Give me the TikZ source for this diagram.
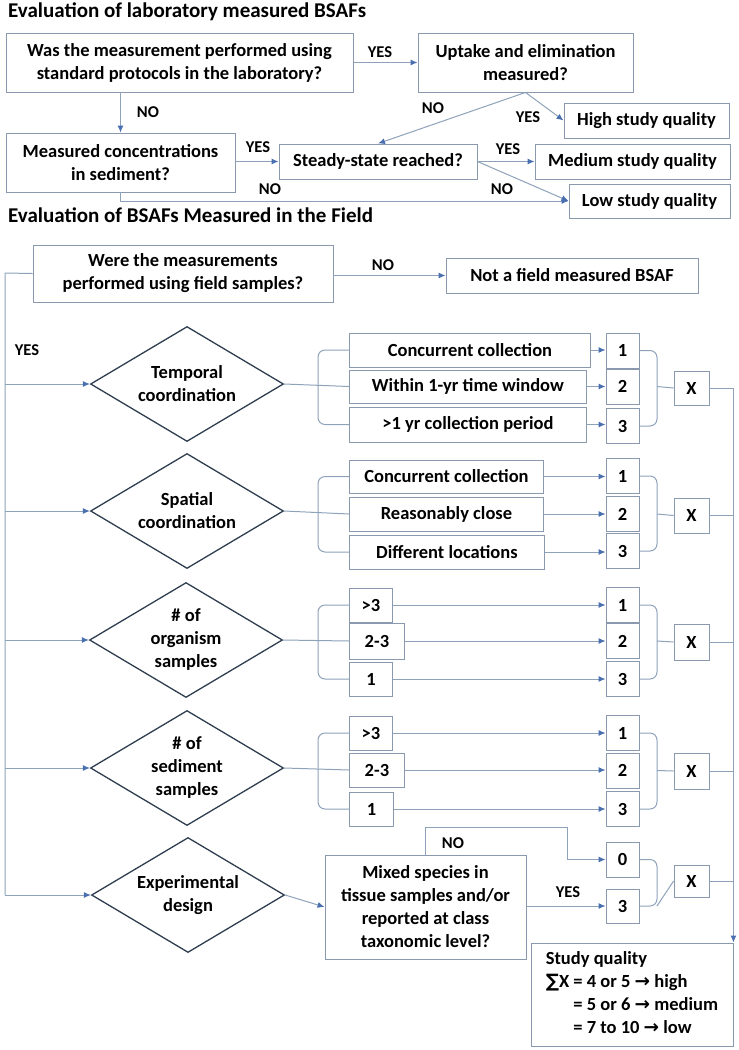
\documentclass[tikz,border=0pt]{standalone}
\usepackage{fontspec}
\setmainfont{Carlito}
\newfontfamily\symfont{DejaVu Sans}
\usetikzlibrary{arrows.meta, positioning, shapes.geometric}
\definecolor{boxgray}{HTML}{8A99AD}
\definecolor{linegray}{HTML}{8EA2BA}
\definecolor{headblue}{HTML}{4A6FB0}
\definecolor{navy}{HTML}{2E3D50}
\newcommand{\ra}{{\symfont\bfseries →}}
\tikzset{
  boxfont/.style={font=\fontsize{18.5}{23}\selectfont\bfseries}, % text inside boxes
  box/.style={draw=boxgray, line width=0.9pt, align=center, inner sep=2pt, boxfont},
  decision/.style={diamond, draw=navy, line width=1.3pt, aspect=1.68, minimum width=193pt, minimum height=115pt, inner sep=0pt, align=center, boxfont},
  score/.style={box, minimum width=33pt, minimum height=35pt},
  answer/.style={font=\fontsize{16.5}{18}\selectfont\bfseries, inner sep=0pt}, % YES / NO
  heading/.style={font=\fontsize{21}{24}\selectfont\bfseries, anchor=west, inner sep=0pt},
  link/.style={draw=linegray, line width=1pt},
  arr/.style={link, -{Latex[length=7pt,width=6pt,color=headblue]}},
}

\begin{document}
\begin{tikzpicture}[x=1pt, y=-1pt]
  \useasboundingbox (0,0) rectangle (739,1050);

  % laboratory part
  \node[heading] (title1) at (8,12) {Evaluation of laboratory measured BSAFs};
  \node[box, minimum width=347pt, minimum height=59pt] (std) at (179.5,62.5) {Was the measurement performed using\\standard protocols in the laboratory?};
  \node[box, minimum width=215pt, minimum height=59pt] (uptake) at (525.5,62.5) {Uptake and elimination\\measured?};
  \node[box, minimum width=165pt, minimum height=35pt] (high) at (646.5,120.5) {High study quality};
  \node[box, minimum width=229pt, minimum height=59pt] (sedconc) at (120.5,162.5) {Measured concentrations\\in sediment?};
  \node[box, minimum width=198pt, minimum height=35pt] (steady) at (378,161.5) {Steady-state reached?};
  \node[box, minimum width=195pt, minimum height=35pt] (medium) at (632.5,161.5) {Medium study quality};
  \node[box, minimum width=161pt, minimum height=34pt] (low) at (649.5,201) {Low study quality};

  \draw[arr] (std.east |- uptake.west) -- (uptake.west);
  \draw[arr] (std.south -| sedconc.north) -- (sedconc.north);
  \draw[arr] (uptake.south) -- (high.west);
  \draw[arr] (uptake.south) -- (steady.north);
  \draw[arr] (sedconc.east |- steady.west) -- (steady.west);
  \draw[arr] (steady.east) -- (medium.west);
  \draw[arr] (steady.east) -- (low.west);
  \draw[arr] (sedconc.south) |- (low.west);

  \node[answer] (y1) at (380,52) {YES};
  \node[answer] (n1) at (148,112) {NO};
  \node[answer] (y2) at (528,117) {YES};
  \node[answer] (n2) at (433,108) {NO};
  \node[answer] (y3) at (258,147) {YES};
  \node[answer] (n3) at (270,189) {NO};
  \node[answer] (y4) at (508,149) {YES};
  \node[answer] (n4) at (502,189) {NO};

  % field part
  \node[heading] (title2) at (8,215) {Evaluation of BSAFs Measured in the Field};
  \node[box, minimum width=300pt, minimum height=57pt] (field) at (183,273.5) {Were the measurements\\performed using field samples?};
  \node[box, minimum width=252pt, minimum height=35pt] (notfield) at (572,275.5) {Not a field measured BSAF};
  \draw[arr] (field.east |- notfield.west) -- (notfield.west);
  \node[answer] (n5) at (383,265) {NO};
  \node[answer] (y5) at (27,350) {YES};

  \node[decision] (temporal) at (187,384) {Temporal\\coordination};
  \node[decision] (spatial) at (187,511) {Spatial\\coordination};
  \node[decision] (organism) at (186,640) {\# of\\organism\\samples};
  \node[decision] (sediment) at (187,768) {\# of\\sediment\\samples};
  \node[decision] (design) at (188,895) {Experimental\\design};

  \coordinate (rail) at (5,273);
  \draw[link] (field.west) -- (rail) -- (rail |- design.west);
  \foreach \d in {temporal, spatial, organism, sediment, design}
    \draw[arr] (rail |- \d.west) -- (\d.west);

  % temporal coordination
  \node[box, minimum width=241pt, minimum height=34pt, anchor=west] (t1) at (349,350) {Concurrent collection};
  \node[box, minimum width=237pt, minimum height=33pt, anchor=west] (t2) at (349,386.5) {Within 1-yr time window};
  \node[box, minimum width=237pt, minimum height=35pt, anchor=west] (t3) at (349,424.5) {>1 yr collection period};
  \node[score] (s11) at (622.5,350.5) {1};
  \node[score] (s12) at (622.5,386.5) {2};
  \node[score] (s13) at (622.5,426) {3};
  \node[score, minimum width=35pt, minimum height=34pt] (x1) at (691.5,388) {X};

  % spatial coordination
  \node[box, minimum width=194pt, minimum height=33pt, anchor=west] (p1) at (349,476.5) {Concurrent collection};
  \node[box, minimum width=194pt, minimum height=34pt, anchor=west] (p2) at (349,514) {Reasonably close};
  \node[box, minimum width=195pt, minimum height=34pt, anchor=west] (p3) at (349,552) {Different locations};
  \node[score] (s21) at (622.5,476) {1};
  \node[score] (s22) at (622.5,514) {2};
  \node[score] (s23) at (622.5,551) {3};
  \node[score, minimum width=35pt] (x2) at (691.5,515.5) {X};

  % organism samples
  \node[box, minimum width=43pt, minimum height=34pt, anchor=west] (o1) at (349,605) {>3};
  \node[box, minimum width=55pt, minimum height=36pt, anchor=west] (o2) at (349,641) {2-3};
  \node[box, minimum width=43pt, minimum height=34pt, anchor=west] (o3) at (349,679) {1};
  \node[score] (s31) at (622.5,605) {1};
  \node[score] (s32) at (622.5,641) {2};
  \node[score] (s33) at (622.5,679) {3};
  \node[score, minimum width=35pt, minimum height=36pt] (x3) at (691.5,642) {X};

  % sediment samples
  \node[box, minimum width=43pt, minimum height=34pt, anchor=west] (d1) at (349,733) {>3};
  \node[box, minimum width=55pt, minimum height=34pt, anchor=west] (d2) at (349,770) {2-3};
  \node[box, minimum width=44pt, minimum height=34pt, anchor=west] (d3) at (349,809) {1};
  \node[score] (s41) at (622.5,733) {1};
  \node[score] (s42) at (622.5,770.5) {2};
  \node[score] (s43) at (622.5,809) {3};
  \node[score, minimum width=35pt, minimum height=36pt] (x4) at (691.5,771) {X};

  % experimental design
  \node[box, minimum width=201pt, minimum height=104pt] (mixed) at (425.5,907) {Mixed species in\\tissue samples and/or\\reported at class\\taxonomic level?};
  \node[score] (s51) at (622.5,859.5) {0};
  \node[score, minimum height=34pt] (s52) at (622.5,906) {3};
  \node[score, minimum width=35pt, minimum height=32pt] (x5) at (691.5,881) {X};
  \draw[arr] (design.east) -- (mixed.west);
  \coordinate (nobend) at (567,827);
  \draw[arr] (mixed.north) |- (nobend) |- (s51.west);
  \draw[arr] (mixed.east |- s52.west) -- (s52.west);
  \node[answer] (n6) at (453,843) {NO};
  \node[answer] (y6) at (568,892) {YES};

  % braces into the option boxes
  \foreach \d/\a/\b/\c in {temporal/t1/t2/t3, spatial/p1/p2/p3, organism/o1/o2/o3, sediment/d1/d2/d3} {
    \draw[link, rounded corners=7pt] (\a.west) -| (318,0 |- \b.west) |- (\c.west);
    \draw[link] (\d.east) -- (\b.west);
  }
  % arrows to the scores
  \foreach \a/\s in {t1/s11, t2/s12, t3/s13, p1/s21, p2/s22, p3/s23, o1/s31, o2/s32, o3/s33, d1/s41, d2/s42, d3/s43}
    \draw[arr] (\a.east) -- (\s.west |- \a.east);

  % braces into the X boxes
  \foreach \t/\m/\u/\x in {s11/s12/s13/x1, s21/s22/s23/x2, s31/s32/s33/x3, s41/s42/s43/x4, s51/s52/s52/x5} {
    \coordinate (tip) at (657,0 |- \x.west);
    \draw[link, rounded corners=7pt] (\t.east) -| (tip) |- (\u.east);
    \draw[link] (\m.east -| tip) -- (\x.west);
  }

  % summing up
  \node[box, minimum width=202pt, minimum height=103pt, align=left] (quality) at (632,994.5)
    {Study quality\\{\symfont ∑}X = 4 or 5 \ra{} high\\\phantom{{\symfont ∑}X }= 5 or 6 \ra{} medium\\\phantom{{\symfont ∑}X }= 7 to 10 \ra{} low};
  \draw[arr] (x1.east) -| (quality.north east);
  \foreach \x in {x2, x3, x4, x5}
    \draw[link] (\x.east) -- (\x.east -| quality.east);
\end{tikzpicture}
\end{document}
